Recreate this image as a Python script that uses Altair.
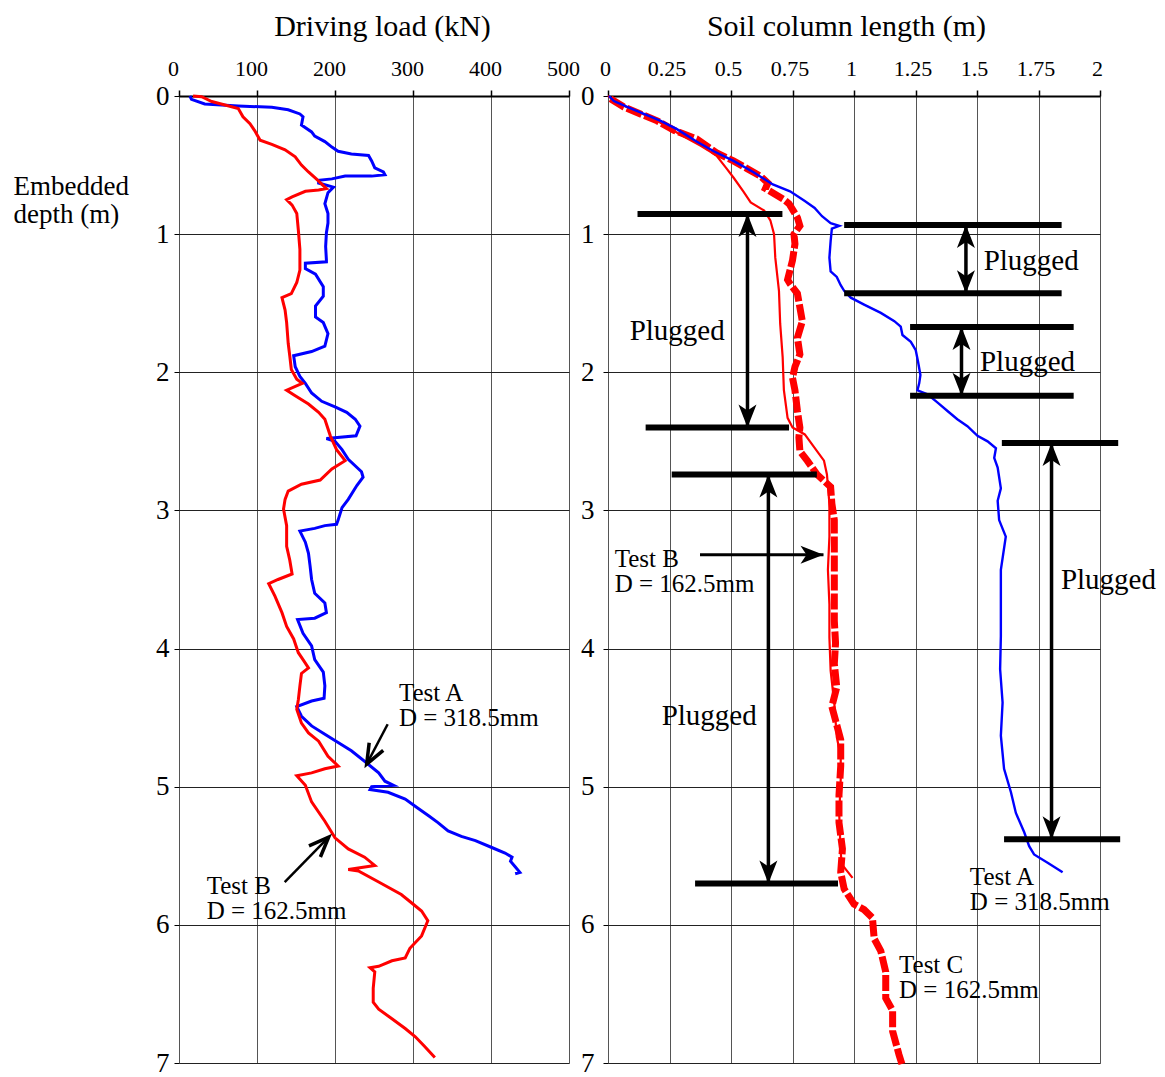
import altair as alt
import pandas as pd

FONT = "Liberation Serif"

# ---------------- Left panel: driving load (kN) vs embedded depth (m) ----------------
test_a_load = [
    (14, 0.0), (16, 0.024), (33, 0.058), (76, 0.072), (119, 0.082), (140, 0.10), (155, 0.13),
    (159, 0.15), (157, 0.21), (170, 0.26), (174, 0.29), (187, 0.33), (196, 0.37), (204, 0.40),
    (221, 0.42), (243, 0.43), (247, 0.47), (251, 0.52), (262, 0.55), (264, 0.57), (247, 0.58),
    (213, 0.58), (196, 0.60), (179, 0.61), (179, 0.63), (198, 0.66), (191, 0.70), (187, 0.78),
    (191, 0.85), (191, 0.92), (189, 0.99), (188, 1.09), (189, 1.19), (189, 1.20), (162, 1.21),
    (162, 1.25), (175, 1.29), (185, 1.38), (185, 1.45), (175, 1.52), (175, 1.60), (185, 1.64),
    (191, 1.72), (187, 1.81), (170, 1.85), (147, 1.88), (149, 1.96), (155, 2.03), (162, 2.08),
    (170, 2.15), (183, 2.21), (200, 2.25), (215, 2.29), (226, 2.34), (232, 2.39), (227, 2.46),
    (189, 2.48), (200, 2.50), (209, 2.56), (217, 2.63), (234, 2.72), (236, 2.76), (228, 2.82),
    (217, 2.92), (209, 2.98), (204, 3.07), (202, 3.10), (187, 3.11), (174, 3.13), (155, 3.15),
    (162, 3.23), (166, 3.31), (168, 3.40), (170, 3.50), (174, 3.60), (187, 3.67), (189, 3.74),
    (174, 3.78), (152, 3.79), (159, 3.89), (170, 3.98), (174, 4.08), (185, 4.17), (187, 4.27),
    (186, 4.36), (170, 4.38), (151, 4.42), (157, 4.49), (170, 4.56), (187, 4.62), (204, 4.68),
    (221, 4.74), (241, 4.83), (256, 4.90), (264, 4.96), (275, 4.99), (247, 5.00), (245, 5.02),
    (268, 5.04), (290, 5.09), (305, 5.15), (320, 5.21), (332, 5.26), (345, 5.32), (362, 5.36),
    (380, 5.39), (401, 5.44), (418, 5.48), (427, 5.51), (425, 5.54), (431, 5.58), (437, 5.62),
    (431, 5.63),
]

test_b_load = [
    (18, 0.0), (29, 0.005), (42, 0.04), (59, 0.065), (76, 0.09), (82, 0.15), (91, 0.20),
    (97, 0.25), (104, 0.32), (119, 0.35), (136, 0.39), (149, 0.44), (157, 0.50), (166, 0.55),
    (176, 0.60), (189, 0.67), (179, 0.68), (162, 0.69), (145, 0.73), (138, 0.75), (145, 0.79),
    (151, 0.85), (153, 0.97), (155, 1.11), (155, 1.26), (151, 1.35), (144, 1.43), (132, 1.46),
    (136, 1.55), (138, 1.64), (140, 1.79), (142, 1.88), (144, 1.98), (151, 2.05), (158, 2.08),
    (138, 2.13), (149, 2.17), (166, 2.23), (179, 2.29), (187, 2.34), (194, 2.46), (202, 2.56),
    (213, 2.64), (196, 2.70), (181, 2.78), (157, 2.81), (140, 2.86), (136, 2.92), (134, 2.99),
    (138, 3.11), (138, 3.26), (142, 3.36), (145, 3.46), (127, 3.50), (115, 3.53), (123, 3.62),
    (132, 3.74), (138, 3.84), (147, 3.93), (153, 4.03), (159, 4.08), (166, 4.14), (157, 4.18),
    (155, 4.27), (153, 4.37), (151, 4.44), (157, 4.54), (166, 4.61), (179, 4.67), (191, 4.78),
    (204, 4.85), (187, 4.87), (170, 4.90), (151, 4.92), (162, 4.99), (170, 5.11), (187, 5.25),
    (200, 5.37), (217, 5.45), (238, 5.51), (251, 5.57), (217, 5.60), (230, 5.61), (256, 5.69),
    (285, 5.78), (298, 5.84), (311, 5.90), (319, 5.97), (311, 6.08), (296, 6.17), (290, 6.24),
    (273, 6.26), (256, 6.30), (245, 6.31), (251, 6.34), (249, 6.46), (249, 6.56), (256, 6.61),
    (273, 6.68), (290, 6.75), (303, 6.81), (315, 6.88), (328, 6.96),
]

# ---------------- Right panel: soil column length (m) vs embedded depth (m) ----------------
test_a_soil = [
    (0.004, 0.0), (0.024, 0.036), (0.08, 0.08), (0.146, 0.13), (0.214, 0.18), (0.28, 0.24),
    (0.36, 0.33), (0.43, 0.40), (0.51, 0.47), (0.59, 0.55), (0.67, 0.64), (0.74, 0.69),
    (0.80, 0.76), (0.84, 0.81), (0.87, 0.87), (0.905, 0.92), (0.94, 0.94), (0.91, 0.96),
    (0.905, 1.05), (0.90, 1.17), (0.905, 1.27), (0.93, 1.31), (0.946, 1.37), (0.96, 1.41),
    (0.987, 1.46), (1.041, 1.51), (1.109, 1.57), (1.164, 1.63), (1.19, 1.67), (1.197, 1.73),
    (1.231, 1.78), (1.251, 1.84), (1.26, 1.92), (1.27, 2.02), (1.265, 2.08), (1.258, 2.13),
    (1.299, 2.16), (1.34, 2.22), (1.38, 2.28), (1.42, 2.34), (1.461, 2.39), (1.502, 2.46),
    (1.543, 2.50), (1.577, 2.55), (1.570, 2.62), (1.584, 2.69), (1.597, 2.84), (1.584, 2.93),
    (1.59, 3.07), (1.617, 3.19), (1.597, 3.43), (1.597, 3.67), (1.597, 3.91), (1.594, 4.15),
    (1.604, 4.39), (1.597, 4.63), (1.61, 4.87), (1.638, 5.04), (1.658, 5.19), (1.692, 5.33),
    (1.712, 5.43), (1.732, 5.49), (1.787, 5.55), (1.848, 5.62),
]

test_b_soil = [
    (0.0, 0.0), (0.05, 0.06), (0.13, 0.12), (0.21, 0.19), (0.295, 0.28), (0.377, 0.36),
    (0.44, 0.43), (0.48, 0.52), (0.51, 0.59), (0.55, 0.69), (0.58, 0.77), (0.635, 0.83),
    (0.66, 0.90), (0.675, 1.00), (0.68, 1.17), (0.695, 1.41), (0.70, 1.65), (0.71, 1.89),
    (0.715, 2.13), (0.73, 2.33), (0.75, 2.40), (0.80, 2.45), (0.837, 2.54), (0.878, 2.64),
    (0.89, 2.74), (0.90, 2.95), (0.90, 3.19), (0.894, 3.43), (0.90, 3.68), (0.90, 3.92),
    (0.905, 4.16), (0.92, 4.40), (0.93, 4.64), (0.946, 4.78), (0.946, 4.95), (0.94, 5.20),
    (0.945, 5.45), (0.95, 5.56), (0.994, 5.66),
]

test_c_soil = [
    (0.01, 0.02), (0.065, 0.08), (0.146, 0.14), (0.20, 0.18), (0.27, 0.25), (0.36, 0.31),
    (0.44, 0.41), (0.51, 0.47), (0.62, 0.58), (0.65, 0.63), (0.64, 0.67), (0.715, 0.75),
    (0.736, 0.78), (0.77, 0.88), (0.78, 0.94), (0.756, 1.00), (0.76, 1.07), (0.75, 1.19),
    (0.73, 1.33), (0.74, 1.36), (0.77, 1.43), (0.78, 1.53), (0.79, 1.63), (0.77, 1.75),
    (0.78, 1.87), (0.76, 1.96), (0.75, 2.04), (0.76, 2.13), (0.77, 2.28), (0.78, 2.40),
    (0.776, 2.47), (0.78, 2.57), (0.81, 2.64), (0.85, 2.74), (0.905, 2.83), (0.91, 2.95),
    (0.92, 3.07), (0.92, 3.31), (0.92, 3.55), (0.92, 3.80), (0.925, 3.96), (0.92, 4.11),
    (0.93, 4.28), (0.91, 4.42), (0.925, 4.52), (0.946, 4.66), (0.946, 4.85), (0.939, 5.06),
    (0.939, 5.26), (0.953, 5.45), (0.946, 5.62), (0.96, 5.74), (1.0, 5.85), (1.041, 5.89),
    (1.075, 5.95), (1.082, 6.10), (1.109, 6.19), (1.129, 6.34), (1.129, 6.53), (1.157, 6.62),
    (1.157, 6.77), (1.183, 6.94), (1.197, 7.02),
]

# "Plugged" marker bars (x from, x to, depth)
plug_bars = [
    (0.12, 0.709, 0.855), (0.153, 0.736, 2.40), (0.259, 0.849, 2.74), (0.354, 0.935, 5.70),
    (0.96, 1.844, 0.933), (0.96, 1.844, 1.427), (1.228, 1.893, 1.672), (1.228, 1.893, 2.169),
    (1.601, 2.074, 2.511), (1.61, 2.082, 5.38),
]
# double-headed arrows (x, depth top, depth bottom)
plug_arrows = [
    (0.567, 0.855, 2.40), (0.652, 2.74, 5.70), (1.455, 0.933, 1.427),
    (1.437, 1.672, 2.169), (1.803, 2.511, 5.38),
]
plug_labels = [(0.088, 1.704), (0.218, 4.488), (1.527, 1.198), (1.512, 1.928), (1.841, 3.50)]

# text labels
left_labels = [
    (282, 4.324, "Test A"), (282, 4.505, "D = 318.5mm"),
    (35.5, 5.72, "Test B"), (35.5, 5.90, "D = 162.5mm"),
]
right_labels = [
    (0.027, 3.35, "Test B"), (0.027, 3.536, "D = 162.5mm"),
    (1.471, 5.657, "Test A"), (1.471, 5.837, "D = 318.5mm"),
    (1.183, 6.29, "Test C"), (1.183, 6.47, "D = 162.5mm"),
]
# pointer arrows (tail x, tail depth, head x, head depth)
left_pointers = [(267.5, 4.548, 240.6, 4.837), (135.5, 5.69, 191.9, 5.365)]
left_pointer_angles = [208.5, 44.4]
right_pointer = [(0.374, 3.32, 0.876, 3.32)]

load_ticks = [0, 100, 200, 300, 400, 500]
soil_ticks = [0, 0.25, 0.5, 0.75, 1, 1.25, 1.5, 1.75, 2]
depth_ticks = [0, 1, 2, 3, 4, 5, 6, 7]


def series(pairs):
    return pd.DataFrame({"x": [p[0] for p in pairs], "y": [p[1] for p in pairs],
                         "i": list(range(len(pairs)))})


y_scale = alt.Scale(domain=[0, 7], reverse=True, nice=False, zero=False)


def x_axis(title, values, title_x, offset):
    return alt.Axis(orient="top", title=title, values=values, labelExpr="'' + datum.value",
                    grid=True, gridColor="#555", gridWidth=1, tickSize=6, tickColor="#000",
                    tickWidth=1.5, domain=True, domainColor="#000", domainWidth=2,
                    labelFont=FONT, labelFontSize=22, labelColor="#000", labelPadding=15,
                    labelBaseline="alphabetic", labelOffset=offset, labelFlush=False,
                    labelOverlap=False, titleFont=FONT, titleFontSize=30,
                    titleFontWeight="normal", titleColor="#000", titleX=title_x, titleY=-61,
                    titleBaseline="alphabetic", titleAlign="center", titleAnchor="start")


y_axis_left = alt.Axis(orient="left", values=depth_ticks, format="d", grid=True,
                       gridColor="#222", gridWidth=1, domain=False, tickSize=5,
                       tickColor="#000", labelFont=FONT, labelFontSize=27, labelColor="#000",
                       labelPadding=5, labelFlush=False, labelOverlap=False,
                       title=["Embedded", "depth (m)"], titleAngle=0, titleAlign="left",
                       titleBaseline="alphabetic", titleX=-166, titleY=98,
                       titleLineHeight=28, titleFont=FONT, titleFontSize=27,
                       titleFontWeight="normal", titleColor="#000")
y_axis_right = alt.Axis(orient="left", values=depth_ticks, format="d", grid=True,
                        gridColor="#222", gridWidth=1, domain=False, tickSize=5,
                        tickColor="#000", labelFont=FONT, labelFontSize=27, labelColor="#000",
                        labelPadding=9, labelFlush=False, labelOverlap=False, title=None)

XL = alt.X("x:Q", scale=alt.Scale(domain=[0, 500], nice=False, zero=False),
           axis=x_axis("Driving load (kN)", load_ticks, 203, -6))
YL = alt.Y("y:Q", scale=y_scale, axis=y_axis_left)
XR = alt.X("x:Q", scale=alt.Scale(domain=[0, 2], nice=False, zero=False),
           axis=x_axis("Soil column length (m)", soil_ticks, 238, -3))
YR = alt.Y("y:Q", scale=y_scale, axis=y_axis_right)

ARROW_HEAD = "M0,0L0.9,2.3L0,1.7L-0.9,2.3Z"
OPEN_HEAD = "M-0.8,2L0,0L0.8,2"

# ---------- left panel ----------
la = alt.Chart(series(test_a_load)).mark_line(color="#0000ff", strokeWidth=3).encode(
    x=XL, y=YL, order="i:Q")
lb = alt.Chart(series(test_b_load)).mark_line(color="#ff0000", strokeWidth=3).encode(
    x=XL, y=YL, order="i:Q")
lp_df = pd.DataFrame({"x": [p[0] for p in left_pointers], "y": [p[1] for p in left_pointers],
                      "x2": [p[2] for p in left_pointers], "y2": [p[3] for p in left_pointers]})
lp = alt.Chart(lp_df).mark_rule(color="#000", strokeWidth=2.5).encode(
    x=XL, y=YL, x2="x2:Q", y2="y2:Q")
lh_df = pd.DataFrame({"x": [p[2] for p in left_pointers], "y": [p[3] for p in left_pointers],
                      "a": left_pointer_angles})
lh = alt.Chart(lh_df).mark_point(shape=OPEN_HEAD, filled=False, size=400, strokeWidth=3.5,
                                 color="#000", opacity=1).encode(
    x=XL, y=YL, angle=alt.Angle("a:Q", scale=None))
lt_df = pd.DataFrame({"x": [t[0] for t in left_labels], "y": [t[1] for t in left_labels],
                      "t": [t[2] for t in left_labels]})
lt = alt.Chart(lt_df).mark_text(align="left", baseline="middle", font=FONT, fontSize=25,
                                color="#000").encode(x=XL, y=YL, text="t:N")
left = alt.layer(la, lb, lp, lh, lt).properties(width=390, height=967)

# ---------- right panel ----------
rc = alt.Chart(series(test_c_soil)).mark_line(color="#ff0000", strokeWidth=7,
                                              strokeDash=[16, 3]).encode(
    x=XR, y=YR, order="i:Q")
rb = alt.Chart(series(test_b_soil)).mark_line(color="#ff0000", strokeWidth=2.2).encode(
    x=XR, y=YR, order="i:Q")
ra = alt.Chart(series(test_a_soil)).mark_line(color="#0000ff", strokeWidth=2.4).encode(
    x=XR, y=YR, order="i:Q")
bars_df = pd.DataFrame({"x": [b[0] for b in plug_bars], "x2": [b[1] for b in plug_bars],
                        "y": [b[2] for b in plug_bars]})
rbars = alt.Chart(bars_df).mark_rule(color="#000", strokeWidth=6).encode(
    x=XR, x2="x2:Q", y=YR)
sh_df = pd.DataFrame({"x": [a[0] for a in plug_arrows], "y": [a[1] for a in plug_arrows],
                      "y2": [a[2] for a in plug_arrows]})
rshaft = alt.Chart(sh_df).mark_rule(color="#000", strokeWidth=3.5).encode(
    x=XR, y=YR, y2="y2:Q")
heads_df = pd.DataFrame({
    "x": [a[0] for a in plug_arrows] * 2 + [p[2] for p in right_pointer],
    "y": [a[1] for a in plug_arrows] + [a[2] for a in plug_arrows] + [p[3] for p in right_pointer],
    "a": [0] * len(plug_arrows) + [180] * len(plug_arrows) + [90] * len(right_pointer),
})
rheads = alt.Chart(heads_df).mark_point(shape=ARROW_HEAD, filled=True, size=400, strokeWidth=0,
                                        color="#000", opacity=1).encode(
    x=XR, y=YR, angle=alt.Angle("a:Q", scale=None))
rp_df = pd.DataFrame({"x": [p[0] for p in right_pointer], "y": [p[1] for p in right_pointer],
                      "x2": [p[2] for p in right_pointer]})
rpointer = alt.Chart(rp_df).mark_rule(color="#000", strokeWidth=3).encode(
    x=XR, y=YR, x2="x2:Q")
pl_df = pd.DataFrame({"x": [p[0] for p in plug_labels], "y": [p[1] for p in plug_labels],
                      "t": ["Plugged"] * len(plug_labels)})
rplug = alt.Chart(pl_df).mark_text(align="left", baseline="middle", font=FONT, fontSize=29,
                                   color="#000").encode(x=XR, y=YR, text="t:N")
rt_df = pd.DataFrame({"x": [t[0] for t in right_labels], "y": [t[1] for t in right_labels],
                      "t": [t[2] for t in right_labels]})
rtext = alt.Chart(rt_df).mark_text(align="left", baseline="middle", font=FONT, fontSize=25,
                                   color="#000").encode(x=XR, y=YR, text="t:N")
right = alt.layer(rc, rb, ra, rbars, rshaft, rheads, rpointer, rplug, rtext).properties(
    width=492, height=967)

chart = alt.hconcat(left, right, spacing=39, bounds="flush").properties(
    padding={"left": 4, "top": 2, "right": 0, "bottom": 0}
).configure_view(stroke="#888", strokeWidth=3).configure(background="white")

chart.save("out.html", embed_options={"renderer": "svg", "actions": False})
